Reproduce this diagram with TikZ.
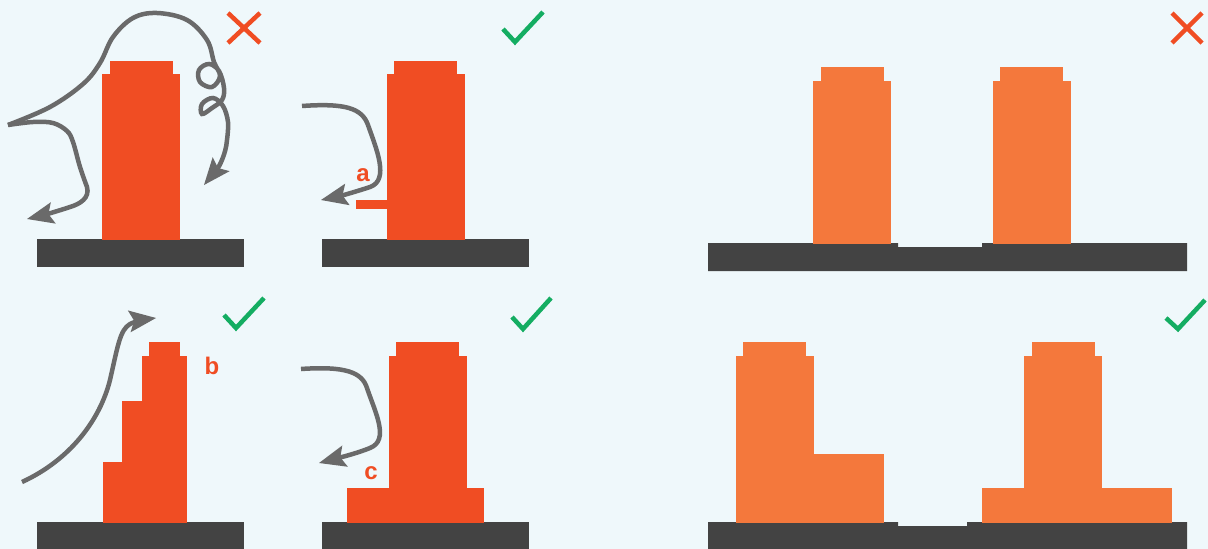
\documentclass[tikz,border=0pt]{standalone}
\usepackage{fontspec}
\setmainfont{Liberation Sans}
\usetikzlibrary{arrows.meta}
\definecolor{bg}{HTML}{EFF8FB}
\definecolor{redb}{HTML}{F04D23}
\definecolor{orb}{HTML}{F4783C}
\definecolor{basec}{HTML}{434343}
\definecolor{arrc}{HTML}{6A6A6A}
\definecolor{okc}{HTML}{14AD62}
\tikzset{
  redblk/.style={fill=redb},
  orblk/.style={fill=orb},
  basebar/.style={fill=basec},
  flow/.style={draw=arrc, line width=4.5pt, -{Stealth[length=27pt,width=22pt,inset=5pt,line width=0pt]}},
  okmark/.style={draw=okc, line width=4.5pt},
  nomark/.style={draw=redb, line width=4.5pt},
  lbl/.style={text=redb, font=\fontsize{24}{24}\selectfont\bfseries, inner sep=0pt}
}
\begin{document}
\begin{tikzpicture}[x=1pt,y=-1pt]
\useasboundingbox (0,0) rectangle (1208,549);
\fill[bg] (0,0) rectangle (1208,549);

% ---------- panel 1 ----------
\fill[basebar] (37,239) rectangle (244,267);
\fill[redblk] (102,74) rectangle (180,240);
\fill[redblk] (110,61) rectangle (173,75);
\draw[flow] plot[smooth, tension=0.6] coordinates {(8,125) (50,107) (83,84) (100,63) (113,37) (133,18) (157,13) (187,20) (207,40) (214,62) (220,76) (212,87) (200,82) (199,70) (209,64) (219,71) (224,88) (222,100) (212,108) (202,114) (202,104) (213,98) (223,106) (228,122) (227,140)} .. controls (226,155) and (218,168) .. (204,185);
\draw[flow] plot[smooth, tension=0.6] coordinates {(8,125) (33,122) (53,123) (67,131) (73,142) (80,167) (87,187)} .. controls (90,198) and (80,204) .. (70,207) .. controls (55,212) and (40,216) .. (27,219);
\draw[nomark] (228,13) -- (260,43) (228,43) -- (260,13);

% ---------- panel 2 ----------
\fill[basebar] (322,239) rectangle (529,267);
\fill[redblk] (387,74) rectangle (465,240);
\fill[redblk] (394,61) rectangle (457,75);
\fill[redblk] (356,200) rectangle (388,209);
\draw[flow] (302,106) .. controls (345,103) and (362,108) .. (368,125) .. controls (376,148) and (390,180) .. (370,187) .. controls (355,192) and (340,196) .. (321,200);
\node[lbl] (la) at (363,175) {a};
\draw[okmark] (503,29) -- (515,42) -- (543,12);

% ---------- panel 3 ----------
\fill[basebar] (37,522) rectangle (244,550);
\fill[redblk] (103,462) rectangle (187,523);
\fill[redblk] (122,401) rectangle (187,463);
\fill[redblk] (142,356) rectangle (187,402);
\fill[redblk] (149,342) rectangle (180,357);
\draw[flow] (22,482) .. controls (70,460) and (100,420) .. (110,380) .. controls (118,345) and (120,330) .. (130,324) .. controls (138,320) and (148,319) .. (156,318);
\node[lbl] (lb) at (212,366) {b};
\draw[okmark] (224,315) -- (236,328) -- (264,298);

% ---------- panel 4 ----------
\fill[basebar] (322,522) rectangle (529,550);
\fill[redblk] (347,488) rectangle (484,523);
\fill[redblk] (389,356) rectangle (467,489);
\fill[redblk] (396,342) rectangle (459,357);
\draw[flow] (301,369) .. controls (345,366) and (362,372) .. (367,388) .. controls (375,412) and (390,440) .. (370,448) .. controls (355,454) and (338,458) .. (319,463);
\node[lbl] (lc) at (371,473) {c};
\draw[okmark] (512,317) -- (523,329) -- (551,298);

% ---------- panel 5 ----------
\fill[basebar] (708,243) -- (898,243) -- (898,247) -- (982,247) -- (982,243) -- (1187,243) -- (1187,271) -- (708,271) -- cycle;
\fill[orblk] (813,81) rectangle (891,244);
\fill[orblk] (821,67) rectangle (884,82);
\fill[orblk] (993,81) rectangle (1071,244);
\fill[orblk] (1000,67) rectangle (1063,82);
\draw[nomark] (1172,13) -- (1202,43) (1172,43) -- (1202,13);

% ---------- panel 6 ----------
\fill[basebar] (708,522) -- (898,522) -- (898,526) -- (967,526) -- (967,522) -- (1187,522) -- (1187,550) -- (708,550) -- cycle;
\fill[orblk] (736,356) rectangle (814,523);
\fill[orblk] (743,342) rectangle (806,357);
\fill[orblk] (813,454) rectangle (884,523);
\fill[orblk] (982,488) rectangle (1172,523);
\fill[orblk] (1024,356) rectangle (1102,489);
\fill[orblk] (1032,342) rectangle (1095,357);
\draw[okmark] (1166,318) -- (1178,329) -- (1205,300);
\end{tikzpicture}
\end{document}
